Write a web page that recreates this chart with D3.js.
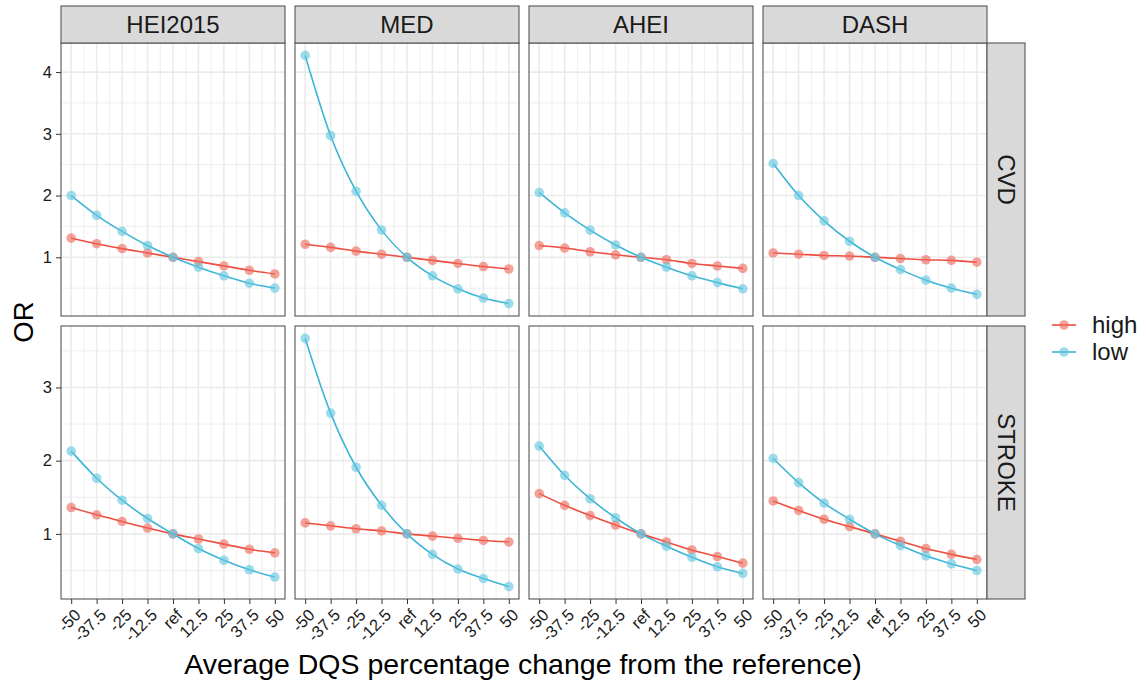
<!DOCTYPE html>
<html lang="en">
<head>
<meta charset="UTF-8">
<title>OR by DQS change</title>
<script src="https://cdnjs.cloudflare.com/ajax/libs/d3/7.8.5/d3.min.js"></script>
<style>
  body { margin: 0; background: #fff; }
  svg { font-family: "Liberation Sans", Arial, sans-serif; }
</style>
</head>
<body>
<svg id="chart" width="1146" height="684"></svg>
<script>
// categories
const indices = ["HEI2015", "MED", "AHEI", "DASH"];
const outcomes = ["CVD", "STROKE"];
const groups = ["high", "low"];
const xValues = [-50, -37.5, -25, -12.5, 0, 12.5, 25, 37.5, 50];
const xLabels = ["-50", "-37.5", "-25", "-12.5", "ref", "12.5", "25", "37.5", "50"];

// CVD odds ratios
const cvdHigh = {
  HEI2015: [1.31, 1.22, 1.14, 1.07, 1.00, 0.93, 0.86, 0.79, 0.73],
  MED:     [1.21, 1.16, 1.10, 1.05, 1.00, 0.95, 0.90, 0.85, 0.81],
  AHEI:    [1.19, 1.15, 1.09, 1.04, 1.00, 0.96, 0.90, 0.86, 0.82],
  DASH:    [1.07, 1.05, 1.03, 1.02, 1.00, 0.98, 0.96, 0.95, 0.92]
};
const cvdLow = {
  HEI2015: [2.00, 1.68, 1.42, 1.19, 1.00, 0.84, 0.70, 0.58, 0.50],
  MED:     [4.27, 2.97, 2.07, 1.44, 1.00, 0.70, 0.49, 0.34, 0.25],
  AHEI:    [2.05, 1.72, 1.44, 1.20, 1.00, 0.84, 0.70, 0.59, 0.49],
  DASH:    [2.52, 2.00, 1.59, 1.26, 1.00, 0.80, 0.63, 0.50, 0.40]
};
// STROKE odds ratios
const strokeHigh = {
  HEI2015: [1.36, 1.26, 1.17, 1.08, 1.00, 0.93, 0.86, 0.79, 0.74],
  MED:     [1.15, 1.11, 1.07, 1.04, 1.00, 0.97, 0.94, 0.91, 0.89],
  AHEI:    [1.55, 1.39, 1.25, 1.12, 1.00, 0.89, 0.78, 0.69, 0.60],
  DASH:    [1.45, 1.32, 1.20, 1.10, 1.00, 0.90, 0.80, 0.72, 0.65]
};
const strokeLow = {
  HEI2015: [2.13, 1.76, 1.46, 1.21, 1.00, 0.80, 0.64, 0.51, 0.41],
  MED:     [3.67, 2.65, 1.91, 1.39, 1.00, 0.72, 0.52, 0.39, 0.28],
  AHEI:    [2.20, 1.80, 1.48, 1.22, 1.00, 0.83, 0.68, 0.55, 0.46],
  DASH:    [2.03, 1.70, 1.42, 1.20, 1.00, 0.84, 0.70, 0.59, 0.50]
};

const seriesData = {
  CVD: { high: cvdHigh, low: cvdLow },
  STROKE: { high: strokeHigh, low: strokeLow }
};

const lineColor = { high: "#EE4D3F", low: "#3DB6D6" };
const pointColor = { high: "#EE6A5E", low: "#62C6E0" };

// layout
const panelLeft = 61, panelW = 224, gapX = 10;
const stripTop = 6, stripH = 37;
const panelTop = [43, 326], panelH = 273;
const rightStripW = 38;
const font = "'Liberation Sans', Arial, sans-serif";

const svg = d3.select("#chart");

const x = d3.scaleLinear().domain([-55, 55]);

outcomes.forEach((outcome, r) => {
  // free y per row with 5% expansion
  const all = [];
  groups.forEach(g => indices.forEach(k => all.push(...seriesData[outcome][g][k])));
  const [lo, hi] = d3.extent(all);
  const pad = (hi - lo) * 0.05;
  const y = d3.scaleLinear()
    .domain([lo - pad, hi + pad])
    .range([panelTop[r] + panelH, panelTop[r]]);
  const majorY = d3.range(1, Math.floor(hi + pad) + 1);
  const minorY = d3.range(0.5, hi + pad, 1).filter(v => v > lo - pad);

  indices.forEach((idx, c) => {
    const x0 = panelLeft + c * (panelW + gapX);
    x.range([x0, x0 + panelW]);
    const g = svg.append("g");

    // minor grid
    g.selectAll(".minY").data(minorY).join("line")
      .attr("x1", x0).attr("x2", x0 + panelW)
      .attr("y1", d => y(d)).attr("y2", d => y(d))
      .attr("stroke", "#EBEBEB").attr("stroke-width", 0.8);
    const minorX = d3.pairs(xValues).map(p => (p[0] + p[1]) / 2);
    g.selectAll(".minX").data(minorX).join("line")
      .attr("x1", d => x(d)).attr("x2", d => x(d))
      .attr("y1", panelTop[r]).attr("y2", panelTop[r] + panelH)
      .attr("stroke", "#EBEBEB").attr("stroke-width", 0.8);
    // major grid
    g.selectAll(".majY").data(majorY).join("line")
      .attr("x1", x0).attr("x2", x0 + panelW)
      .attr("y1", d => y(d)).attr("y2", d => y(d))
      .attr("stroke", "#EBEBEB").attr("stroke-width", 1.6);
    g.selectAll(".majX").data(xValues).join("line")
      .attr("x1", d => x(d)).attr("x2", d => x(d))
      .attr("y1", panelTop[r]).attr("y2", panelTop[r] + panelH)
      .attr("stroke", "#EBEBEB").attr("stroke-width", 1.6);

    // lines and points
    groups.forEach(grp => {
      const vals = seriesData[outcome][grp][idx];
      const pts = xValues.map((xv, i) => [xv, vals[i]]);
      g.append("path")
        .datum(pts)
        .attr("fill", "none")
        .attr("stroke", lineColor[grp])
        .attr("stroke-width", 1.6)
        .attr("d", d3.line().x(d => x(d[0])).y(d => y(d[1])).curve(d3.curveMonotoneX));
      g.selectAll(".pt-" + grp).data(pts).join("circle")
        .attr("cx", d => x(d[0])).attr("cy", d => y(d[1]))
        .attr("r", 4.8)
        .attr("fill", pointColor[grp])
        .attr("opacity", 0.62);
    });

    // panel border
    g.append("rect")
      .attr("x", x0).attr("y", panelTop[r])
      .attr("width", panelW).attr("height", panelH)
      .attr("fill", "none").attr("stroke", "#555").attr("stroke-width", 1.1);

    // top strips
    if (r === 0) {
      g.append("rect")
        .attr("x", x0).attr("y", stripTop)
        .attr("width", panelW).attr("height", stripH)
        .attr("fill", "#D9D9D9").attr("stroke", "#555").attr("stroke-width", 1.1);
      g.append("text")
        .attr("x", x0 + panelW / 2).attr("y", stripTop + stripH / 2)
        .attr("dy", "0.35em").attr("text-anchor", "middle")
        .attr("font-size", 24).attr("fill", "#1A1A1A")
        .text(idx);
    }

    // y axis on first column
    if (c === 0) {
      const ay = svg.append("g")
        .attr("transform", `translate(${x0},0)`)
        .call(d3.axisLeft(y).tickValues(majorY).tickFormat(d3.format("d")).tickSize(5).tickPadding(4));
      ay.select(".domain").remove();
      ay.selectAll(".tick line").attr("stroke", "#333");
      ay.selectAll(".tick text").attr("font-size", 16.5).attr("fill", "#1A1A1A")
        .attr("font-family", font);
    }

    // x axis on bottom row
    if (r === outcomes.length - 1) {
      const ax = svg.append("g")
        .attr("transform", `translate(0,${panelTop[r] + panelH})`)
        .call(d3.axisBottom(x).tickValues(xValues)
          .tickFormat((d, i) => xLabels[i]).tickSize(5).tickPadding(2));
      ax.select(".domain").remove();
      ax.selectAll(".tick line").attr("stroke", "#333");
      ax.selectAll(".tick text")
        .attr("font-size", 16.5).attr("fill", "#1A1A1A")
        .attr("font-family", font)
        .attr("text-anchor", "end")
        .attr("x", 0).attr("y", 0)
        .attr("dy", "0.35em")
        .attr("transform", "translate(6,13) rotate(-45)");
    }
  });

  // right strip
  const sx = panelLeft + indices.length * panelW + (indices.length - 1) * gapX;
  svg.append("rect")
    .attr("x", sx).attr("y", panelTop[r])
    .attr("width", rightStripW).attr("height", panelH)
    .attr("fill", "#D9D9D9").attr("stroke", "#555").attr("stroke-width", 1.1);
  svg.append("text")
    .attr("transform", `translate(${sx + rightStripW / 2},${panelTop[r] + panelH / 2}) rotate(90)`)
    .attr("dy", "0.35em").attr("text-anchor", "middle")
    .attr("font-size", 24).attr("fill", "#1A1A1A")
    .text(outcome);
});

// axis titles
svg.append("text")
  .attr("x", 523).attr("y", 674)
  .attr("text-anchor", "middle").attr("font-size", 28.5).attr("fill", "#000")
  .text("Average DQS percentage change from the reference)");
svg.append("text")
  .attr("transform", "translate(33,322) rotate(-90)")
  .attr("text-anchor", "middle").attr("font-size", 27.5).attr("fill", "#000")
  .text("OR");

// legend
const legend = svg.append("g").attr("transform", "translate(1052,325)");
groups.forEach((grp, i) => {
  const row = legend.append("g").attr("transform", `translate(0,${i * 27})`);
  row.append("line").attr("x1", 0).attr("x2", 24).attr("y1", 0).attr("y2", 0)
    .attr("stroke", lineColor[grp]).attr("stroke-width", 1.6);
  row.append("circle").attr("cx", 12).attr("cy", 0).attr("r", 4.8)
    .attr("fill", pointColor[grp]).attr("opacity", 0.62);
  row.append("text").attr("x", 40).attr("y", 0).attr("dy", "0.35em")
    .attr("font-size", 24).attr("fill", "#1A1A1A").text(grp);
});
</script>
</body>
</html>
